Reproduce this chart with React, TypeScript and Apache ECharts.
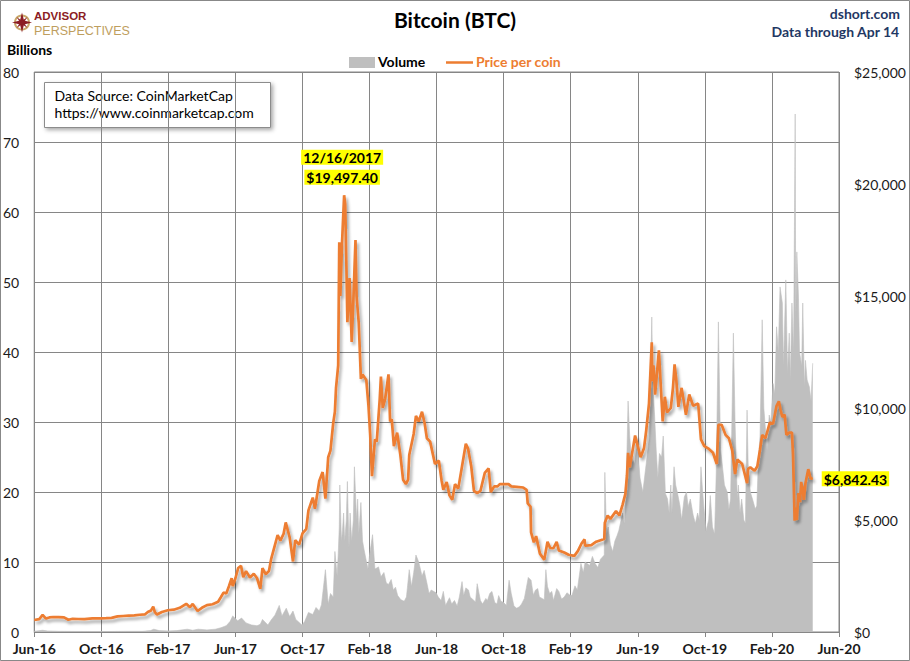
import React, { useEffect, useRef } from "react";
import * as echarts from "echarts";

// ---- Data ----
const xTickLabels = [
  "Jun-16", "Oct-16", "Feb-17", "Jun-17", "Oct-17", "Feb-18", "Jun-18",
  "Oct-18", "Feb-19", "Jun-19", "Oct-19", "Feb-20", "Jun-20",
];

// Price per coin, USD (right axis)
const price: [string, number][] = [
  ["2016-06-01", 537], ["2016-06-10", 575], ["2016-06-16", 766], ["2016-06-22", 600],
  ["2016-06-28", 650], ["2016-07-05", 670], ["2016-07-15", 665], ["2016-07-25", 655],
  ["2016-08-02", 545], ["2016-08-10", 590], ["2016-08-20", 580], ["2016-09-01", 575],
  ["2016-09-15", 610], ["2016-09-30", 609], ["2016-10-10", 617], ["2016-10-20", 630],
  ["2016-10-31", 700], ["2016-11-10", 715], ["2016-11-20", 730], ["2016-11-30", 742],
  ["2016-12-10", 770], ["2016-12-20", 790], ["2016-12-25", 890], ["2016-12-31", 963],
  ["2017-01-04", 1130], ["2017-01-07", 890], ["2017-01-11", 780], ["2017-01-20", 895],
  ["2017-01-31", 970], ["2017-02-10", 995], ["2017-02-20", 1080], ["2017-03-03", 1260],
  ["2017-03-10", 1110], ["2017-03-15", 1250], ["2017-03-24", 937], ["2017-04-01", 1080],
  ["2017-04-10", 1200], ["2017-04-20", 1240], ["2017-04-30", 1350], ["2017-05-05", 1550],
  ["2017-05-10", 1760], ["2017-05-15", 1720], ["2017-05-20", 2040], ["2017-05-25", 2400],
  ["2017-05-27", 2050], ["2017-06-01", 2400], ["2017-06-06", 2860], ["2017-06-11", 2960],
  ["2017-06-15", 2450], ["2017-06-20", 2720], ["2017-06-27", 2430], ["2017-07-04", 2600],
  ["2017-07-10", 2400], ["2017-07-16", 1930], ["2017-07-20", 2850], ["2017-07-26", 2580],
  ["2017-08-01", 2720], ["2017-08-05", 3250], ["2017-08-12", 3880], ["2017-08-17", 4330],
  ["2017-08-22", 4080], ["2017-08-28", 4380], ["2017-09-01", 4890], ["2017-09-08", 4230],
  ["2017-09-14", 3150], ["2017-09-18", 4100], ["2017-09-25", 3900], ["2017-10-01", 4400],
  ["2017-10-08", 4600], ["2017-10-12", 5430], ["2017-10-20", 6000], ["2017-10-24", 5500],
  ["2017-11-01", 6740], ["2017-11-07", 7140], ["2017-11-12", 5950], ["2017-11-17", 7800],
  ["2017-11-21", 8100], ["2017-11-26", 9330], ["2017-11-29", 9840], ["2017-12-01", 10900],
  ["2017-12-05", 11900], ["2017-12-07", 17400], ["2017-12-09", 15000], ["2017-12-12", 17300],
  ["2017-12-16", 19497.4], ["2017-12-18", 19100], ["2017-12-20", 16600], ["2017-12-22", 13830],
  ["2017-12-26", 15800], ["2017-12-30", 12950], ["2018-01-02", 14750], ["2018-01-06", 17500],
  ["2018-01-08", 15000], ["2018-01-12", 13800], ["2018-01-16", 11300], ["2018-01-19", 11500],
  ["2018-01-26", 11250], ["2018-01-30", 10100], ["2018-02-02", 8830], ["2018-02-05", 6960],
  ["2018-02-10", 8600], ["2018-02-13", 8500], ["2018-02-18", 10400], ["2018-02-20", 11400],
  ["2018-02-23", 10000], ["2018-02-27", 10400], ["2018-03-05", 11500], ["2018-03-08", 9400],
  ["2018-03-11", 9500], ["2018-03-15", 8300], ["2018-03-21", 8900], ["2018-03-27", 7900],
  ["2018-04-01", 6800], ["2018-04-06", 6600], ["2018-04-10", 6800], ["2018-04-12", 7900],
  ["2018-04-20", 8850], ["2018-04-24", 9650], ["2018-04-29", 9400], ["2018-05-05", 9830],
  ["2018-05-10", 9300], ["2018-05-14", 8650], ["2018-05-20", 8500], ["2018-05-29", 7500],
  ["2018-06-05", 7650], ["2018-06-10", 6750], ["2018-06-13", 6350], ["2018-06-19", 6700],
  ["2018-06-24", 6100], ["2018-06-29", 5900], ["2018-07-04", 6600], ["2018-07-10", 6400],
  ["2018-07-17", 7400], ["2018-07-24", 8400], ["2018-07-28", 8200], ["2018-08-03", 7400],
  ["2018-08-08", 6300], ["2018-08-14", 6200], ["2018-08-20", 6300], ["2018-08-28", 7100],
  ["2018-09-04", 7300], ["2018-09-08", 6250], ["2018-09-14", 6500], ["2018-09-20", 6500],
  ["2018-09-24", 6600], ["2018-10-01", 6600], ["2018-10-10", 6600], ["2018-10-15", 6500],
  ["2018-10-25", 6480], ["2018-11-06", 6450], ["2018-11-12", 6350], ["2018-11-14", 5740],
  ["2018-11-19", 5600], ["2018-11-20", 4450], ["2018-11-25", 4000], ["2018-11-29", 4280],
  ["2018-12-06", 3500], ["2018-12-14", 3230], ["2018-12-20", 4030], ["2018-12-25", 3750],
  ["2018-12-31", 3740], ["2019-01-06", 4020], ["2019-01-10", 3640], ["2019-01-20", 3550],
  ["2019-01-28", 3450], ["2019-02-07", 3400], ["2019-02-13", 3620], ["2019-02-19", 3950],
  ["2019-02-24", 4140], ["2019-02-25", 3850], ["2019-03-08", 3880], ["2019-03-17", 4030],
  ["2019-04-01", 4150], ["2019-04-02", 4880], ["2019-04-07", 5200], ["2019-04-12", 5050],
  ["2019-04-22", 5400], ["2019-04-28", 5200], ["2019-05-04", 5700], ["2019-05-09", 6170],
  ["2019-05-12", 7000], ["2019-05-14", 8000], ["2019-05-17", 7350], ["2019-05-27", 8770],
  ["2019-06-03", 8100], ["2019-06-06", 7800], ["2019-06-12", 8200], ["2019-06-16", 8990],
  ["2019-06-21", 10200], ["2019-06-26", 12930], ["2019-06-27", 11200], ["2019-06-29", 11900],
  ["2019-07-02", 10600], ["2019-07-09", 12570], ["2019-07-14", 10300], ["2019-07-16", 9400],
  ["2019-07-20", 10500], ["2019-07-24", 9800], ["2019-07-31", 10000], ["2019-08-04", 10900],
  ["2019-08-07", 11950], ["2019-08-10", 11300], ["2019-08-14", 10050], ["2019-08-20", 10900],
  ["2019-08-28", 9700], ["2019-09-03", 10600], ["2019-09-10", 10100], ["2019-09-19", 10200],
  ["2019-09-24", 8600], ["2019-09-30", 8300], ["2019-10-07", 8200], ["2019-10-16", 8000],
  ["2019-10-23", 7500], ["2019-10-26", 9250], ["2019-11-01", 9250], ["2019-11-08", 8800],
  ["2019-11-14", 8650], ["2019-11-20", 8100], ["2019-11-25", 7050], ["2019-11-29", 7700],
  ["2019-12-08", 7500], ["2019-12-17", 6640], ["2019-12-19", 7280], ["2019-12-23", 7350],
  ["2019-12-31", 7200], ["2020-01-05", 7400], ["2020-01-10", 8150], ["2020-01-14", 8800],
  ["2020-01-20", 8650], ["2020-01-28", 9350], ["2020-02-03", 9300], ["2020-02-09", 10100],
  ["2020-02-13", 10300], ["2020-02-16", 9900], ["2020-02-19", 9600], ["2020-02-23", 9700],
  ["2020-02-26", 8800], ["2020-03-02", 8900], ["2020-03-07", 8900], ["2020-03-09", 7900],
  ["2020-03-12", 4970], ["2020-03-13", 5560], ["2020-03-16", 5000], ["2020-03-19", 6200],
  ["2020-03-22", 5800], ["2020-03-24", 6700], ["2020-03-27", 6370], ["2020-03-29", 5900],
  ["2020-04-01", 6640], ["2020-04-06", 7270], ["2020-04-10", 6860], ["2020-04-14", 6842.43],
];

// Volume, billions USD (left axis)
const volume: [string, number][] = [
  ["2016-06-01", 0.1], ["2016-06-16", 0.25], ["2016-06-25", 0.15], ["2016-07-15", 0.1],
  ["2016-08-15", 0.08], ["2016-09-15", 0.07], ["2016-10-15", 0.07], ["2016-11-15", 0.1],
  ["2016-12-15", 0.1], ["2016-12-30", 0.2], ["2017-01-05", 0.4], ["2017-01-15", 0.2],
  ["2017-02-01", 0.15], ["2017-02-15", 0.2], ["2017-03-05", 0.4], ["2017-03-15", 0.25],
  ["2017-03-25", 0.4], ["2017-04-10", 0.3], ["2017-04-25", 0.4], ["2017-05-05", 0.6],
  ["2017-05-15", 0.9], ["2017-05-22", 1.5], ["2017-05-27", 2.3], ["2017-06-05", 1.6],
  ["2017-06-12", 2.0], ["2017-06-20", 1.3], ["2017-06-30", 1.0], ["2017-07-10", 0.9],
  ["2017-07-16", 1.1], ["2017-07-20", 1.8], ["2017-07-30", 1.0], ["2017-08-05", 1.7],
  ["2017-08-12", 2.4], ["2017-08-20", 3.8], ["2017-08-25", 2.3], ["2017-09-02", 3.4],
  ["2017-09-08", 2.2], ["2017-09-14", 3.0], ["2017-09-19", 1.8], ["2017-09-30", 1.0],
  ["2017-10-05", 1.5], ["2017-10-12", 2.8], ["2017-10-20", 2.5], ["2017-10-26", 3.5],
  ["2017-11-01", 3.0], ["2017-11-05", 3.9], ["2017-11-12", 8.9], ["2017-11-17", 4.0],
  ["2017-11-21", 5.5], ["2017-11-26", 5.0], ["2017-11-29", 11.5], ["2017-12-03", 8.0],
  ["2017-12-05", 11.0], ["2017-12-07", 15.0], ["2017-12-08", 21.0], ["2017-12-11", 13.0],
  ["2017-12-13", 14.5], ["2017-12-15", 17.0], ["2017-12-17", 13.0], ["2017-12-20", 16.0],
  ["2017-12-22", 21.5], ["2017-12-25", 12.0], ["2017-12-27", 17.0], ["2017-12-30", 13.0],
  ["2018-01-02", 16.0], ["2018-01-04", 23.6], ["2018-01-08", 16.0], ["2018-01-10", 19.0],
  ["2018-01-12", 14.0], ["2018-01-16", 18.5], ["2018-01-19", 13.0], ["2018-01-22", 11.7],
  ["2018-01-29", 9.0], ["2018-02-01", 11.0], ["2018-02-06", 13.9], ["2018-02-10", 9.0],
  ["2018-02-16", 9.3], ["2018-02-20", 7.9], ["2018-02-25", 8.5], ["2018-03-01", 7.0],
  ["2018-03-05", 6.8], ["2018-03-10", 7.5], ["2018-03-14", 6.0], ["2018-03-18", 6.4],
  ["2018-03-22", 5.2], ["2018-03-28", 4.6], ["2018-04-03", 4.4], ["2018-04-07", 5.0],
  ["2018-04-12", 8.9], ["2018-04-16", 6.5], ["2018-04-20", 8.5], ["2018-04-24", 11.0],
  ["2018-04-29", 10.0], ["2018-05-05", 8.0], ["2018-05-09", 8.8], ["2018-05-14", 7.0],
  ["2018-05-18", 5.5], ["2018-05-22", 6.0], ["2018-05-31", 5.6], ["2018-06-04", 5.0],
  ["2018-06-09", 4.5], ["2018-06-13", 5.8], ["2018-06-17", 3.8], ["2018-06-24", 4.9],
  ["2018-06-28", 4.0], ["2018-07-03", 4.5], ["2018-07-08", 3.7], ["2018-07-12", 5.0],
  ["2018-07-17", 7.2], ["2018-07-20", 5.2], ["2018-07-24", 6.3], ["2018-07-29", 6.0],
  ["2018-08-01", 5.0], ["2018-08-08", 4.5], ["2018-08-11", 4.3], ["2018-08-14", 6.9],
  ["2018-08-20", 4.5], ["2018-08-24", 4.0], ["2018-08-30", 4.8], ["2018-09-02", 4.5],
  ["2018-09-06", 5.5], ["2018-09-10", 5.8], ["2018-09-15", 4.2], ["2018-09-19", 4.0],
  ["2018-09-22", 5.2], ["2018-09-26", 4.4], ["2018-10-01", 4.2], ["2018-10-06", 3.8],
  ["2018-10-11", 7.4], ["2018-10-15", 5.5], ["2018-10-20", 3.7], ["2018-10-25", 3.4],
  ["2018-10-30", 3.6], ["2018-11-03", 4.0], ["2018-11-08", 4.8], ["2018-11-15", 7.8],
  ["2018-11-20", 7.4], ["2018-11-24", 5.3], ["2018-11-28", 6.0], ["2018-12-02", 6.2],
  ["2018-12-05", 5.0], ["2018-12-10", 4.8], ["2018-12-14", 4.6], ["2018-12-17", 8.9],
  ["2018-12-20", 6.5], ["2018-12-24", 5.5], ["2018-12-28", 5.8], ["2018-12-31", 4.5],
  ["2019-01-06", 6.2], ["2019-01-10", 5.8], ["2019-01-15", 4.7], ["2019-01-20", 5.0],
  ["2019-01-25", 5.6], ["2019-01-30", 5.3], ["2019-02-03", 5.2], ["2019-02-08", 6.6],
  ["2019-02-12", 6.0], ["2019-02-18", 9.8], ["2019-02-22", 8.5], ["2019-02-25", 10.0],
  ["2019-03-05", 9.5], ["2019-03-10", 10.8], ["2019-03-15", 9.8], ["2019-03-20", 9.2],
  ["2019-03-25", 10.4], ["2019-04-01", 11.0], ["2019-04-02", 22.8], ["2019-04-05", 14.0],
  ["2019-04-08", 15.0], ["2019-04-12", 12.5], ["2019-04-16", 11.5], ["2019-04-20", 13.0],
  ["2019-04-24", 13.8], ["2019-04-27", 14.5], ["2019-05-04", 17.0], ["2019-05-07", 15.5],
  ["2019-05-10", 19.0], ["2019-05-14", 33.0], ["2019-05-17", 28.0], ["2019-05-20", 25.0],
  ["2019-05-26", 24.0], ["2019-05-31", 27.0], ["2019-06-05", 22.0], ["2019-06-10", 20.0],
  ["2019-06-17", 24.7], ["2019-06-22", 28.0], ["2019-06-26", 45.0], ["2019-06-28", 35.0],
  ["2019-07-01", 31.0], ["2019-07-04", 26.0], ["2019-07-07", 22.0], ["2019-07-10", 25.5],
  ["2019-07-14", 25.0], ["2019-07-17", 28.0], ["2019-07-21", 19.8], ["2019-07-25", 19.0],
  ["2019-07-28", 17.0], ["2019-07-31", 21.0], ["2019-08-02", 17.0], ["2019-08-06", 23.6],
  ["2019-08-09", 21.0], ["2019-08-12", 20.0], ["2019-08-17", 18.0], ["2019-08-20", 16.0],
  ["2019-08-25", 19.3], ["2019-08-29", 20.0], ["2019-09-01", 17.9], ["2019-09-05", 19.0],
  ["2019-09-10", 16.7], ["2019-09-14", 15.5], ["2019-09-18", 17.0], ["2019-09-21", 16.0],
  ["2019-09-24", 23.6], ["2019-09-27", 20.0], ["2019-10-03", 14.4], ["2019-10-08", 16.0],
  ["2019-10-11", 19.5], ["2019-10-15", 15.0], ["2019-10-19", 14.0], ["2019-10-22", 22.7],
  ["2019-10-26", 44.3], ["2019-10-30", 26.0], ["2019-11-02", 24.0], ["2019-11-06", 21.0],
  ["2019-11-11", 20.0], ["2019-11-14", 17.5], ["2019-11-17", 19.0], ["2019-11-22", 42.7],
  ["2019-11-25", 30.0], ["2019-11-29", 19.0], ["2019-12-01", 21.0], ["2019-12-04", 17.0],
  ["2019-12-07", 19.0], ["2019-12-11", 16.0], ["2019-12-14", 15.5], ["2019-12-17", 31.7],
  ["2019-12-19", 24.0], ["2019-12-23", 20.0], ["2019-12-27", 19.0], ["2020-01-01", 17.6],
  ["2020-01-04", 18.0], ["2020-01-07", 24.6], ["2020-01-10", 28.0], ["2020-01-14", 44.6],
  ["2020-01-17", 32.0], ["2020-01-20", 29.0], ["2020-01-23", 26.0], ["2020-01-27", 31.0],
  ["2020-01-30", 30.0], ["2020-02-03", 35.5], ["2020-02-06", 34.0], ["2020-02-09", 43.6],
  ["2020-02-12", 40.0], ["2020-02-15", 49.3], ["2020-02-19", 47.0], ["2020-02-21", 38.0],
  ["2020-02-25", 50.3], ["2020-02-28", 37.0], ["2020-03-02", 42.7], ["2020-03-04", 36.0],
  ["2020-03-07", 47.0], ["2020-03-10", 40.0], ["2020-03-13", 74.0], ["2020-03-14", 45.0],
  ["2020-03-16", 54.3], ["2020-03-19", 48.0], ["2020-03-21", 40.0], ["2020-03-25", 38.0],
  ["2020-03-27", 47.0], ["2020-03-30", 35.0], ["2020-04-01", 38.8], ["2020-04-04", 36.0],
  ["2020-04-08", 35.0], ["2020-04-11", 33.0], ["2020-04-14", 38.4],
];

const peakDate = "2017-12-16";
const peakPrice = 19497.4;
const lastDate = "2020-04-14";
const lastPrice = 6842.43;

// ---- helpers ----
// Position on the x axis in months since 1 Jun 2016
function toM(d: string): number {
  const [y, mo, da] = d.split("-").map(Number);
  const dim = new Date(y, mo, 0).getDate();
  return (y - 2016) * 12 + (mo - 6) + (da - 1) / dim;
}
function toSeries(rows: [string, number][]): number[][] {
  return rows.map(([d, v]) => [toM(d), v]).sort((a, b) => a[0] - b[0]);
}

const FONT = "Lato, 'Open Sans', sans-serif";
const LOGO_FONT = "'Liberation Sans', Arial, sans-serif";
const ORANGE = "#ED7D31";
const GRAY = "#BFBFBF";
const GRID = "#868686";
const NAVY = "#1F3864";

export default function App() {
  const ref = useRef<HTMLDivElement>(null);

  useEffect(() => {
    if (!ref.current) return;
    const chart = echarts.init(ref.current, undefined, { renderer: "svg" });

    const option: any = {
      animation: false,
      backgroundColor: "#fff",
      textStyle: { fontFamily: FONT },
      grid: { left: 30, right: 71, top: 72, bottom: 29, show: true, borderColor: GRID, borderWidth: 1 },
      xAxis: {
        type: "value",
        min: 0,
        max: 48,
        interval: 4,
        axisLine: { show: true, lineStyle: { color: GRID } },
        axisTick: { show: true, length: 5, lineStyle: { color: GRID } },
        splitLine: { show: true, lineStyle: { color: GRID, width: 1 } },
        axisLabel: {
          formatter: (v: number) => xTickLabels[Math.round(v / 4)] ?? "",
          fontFamily: FONT,
          fontSize: 14,
          fontWeight: "bold",
          color: "#1a1a1a",
          margin: 9,
        },
      },
      yAxis: [
        {
          type: "value",
          min: 0,
          max: 80,
          interval: 10,
          axisLine: { show: false },
          axisTick: { show: false },
          splitLine: { show: true, lineStyle: { color: GRID, width: 1 } },
          axisLabel: { fontFamily: FONT, fontSize: 14, color: "#1a1a1a", margin: 15 },
        },
        {
          type: "value",
          min: 0,
          max: 25000,
          interval: 5000,
          position: "right",
          axisLine: { show: false },
          axisTick: { show: false },
          splitLine: { show: false },
          axisLabel: {
            fontFamily: FONT,
            fontSize: 14,
            color: "#1a1a1a",
            margin: 15,
            align: "left",
            formatter: (v: number) => "$" + v.toLocaleString("en-US"),
          },
        },
      ],
      series: [
        {
          name: "Volume",
          type: "line",
          yAxisIndex: 0,
          data: toSeries(volume),
          showSymbol: false,
          symbol: "none",
          lineStyle: { width: 0.6, color: GRAY },
          areaStyle: { color: GRAY, opacity: 1 },
          z: 1,
        },
        {
          name: "Price per coin",
          type: "line",
          yAxisIndex: 1,
          data: toSeries(price),
          showSymbol: false,
          symbol: "none",
          lineStyle: {
            width: 2.7,
            color: ORANGE,
            shadowColor: "rgba(0,0,0,0.35)",
            shadowBlur: 3,
            shadowOffsetX: 2,
            shadowOffsetY: 3,
          },
          z: 3,
          markPoint: {
            symbol: "circle",
            symbolSize: 0,
            silent: true,
            data: [
              {
                coord: [toM(peakDate), peakPrice],
                label: {
                  show: true,
                  position: "top",
                  distance: 8,
                  offset: [-2, 0],
                  formatter: "{h|12/16/2017}\n{h|$19,497.40}",
                },
              },
              {
                coord: [toM(lastDate), lastPrice],
                label: {
                  show: true,
                  position: "right",
                  distance: 9,
                  formatter: "{h|$6,842.43}",
                },
              },
            ],
            label: {
              rich: {
                h: {
                  backgroundColor: "#FFFF00",
                  fontFamily: FONT,
                  fontWeight: "bold",
                  fontSize: 14,
                  color: "#000",
                  lineHeight: 20,
                  padding: [1, 2, 0, 2],
                },
              },
            },
          },
        },
      ],
      graphic: [
        // outer frame
        {
          type: "rect",
          shape: { x: 0.5, y: 0.5, width: 909, height: 660 },
          style: { fill: "none", stroke: "#888", lineWidth: 1 },
          silent: true,
        },
        // logo
        {
          type: "group",
          left: 12,
          top: 10,
          children: [
            {
              type: "circle",
              shape: { cx: 10, cy: 10, r: 7 },
              style: { fill: "none", stroke: "#C9A86A", lineWidth: 2 },
            },
            {
              type: "polygon",
              shape: {
                points: [[10, 0], [12, 8], [20, 10], [12, 12], [10, 20], [8, 12], [0, 10], [8, 8]],
              },
              style: { fill: "#8B1C24" },
            },
            {
              type: "polygon",
              shape: { points: [[4.5, 4.5], [11, 9], [15.5, 15.5], [9, 11]] },
              style: { fill: "#8B1C24" },
            },
            {
              type: "polygon",
              shape: { points: [[15.5, 4.5], [11, 11], [4.5, 15.5], [9, 9]] },
              style: { fill: "#8B1C24" },
            },
            {
              type: "text",
              x: 22,
              y: 3.5,
              style: {
                text: "ADVISOR",
                fontFamily: LOGO_FONT,
                fontWeight: "bold",
                fontSize: 11.5,
                verticalAlign: "middle",
                fill: "#8B1C24",
              },
            },
            {
              type: "text",
              x: 22,
              y: 18.5,
              style: {
                text: "PERSPECTIVES",
                fontFamily: LOGO_FONT,
                fontSize: 12.5,
                verticalAlign: "middle",
                fill: "#BE9E5E",
              },
            },
          ],
        },
        // title
        {
          type: "text",
          left: "center",
          top: 9,
          style: { text: "Bitcoin (BTC)", fontFamily: FONT, fontWeight: "bold", fontSize: 21, fill: "#000" },
        },
        // top right
        {
          type: "text",
          right: 10,
          top: 6,
          style: { text: "dshort.com", fontFamily: FONT, fontWeight: "bold", fontSize: 14, fill: NAVY },
        },
        {
          type: "text",
          right: 10,
          top: 24,
          style: { text: "Data through Apr 14", fontFamily: FONT, fontWeight: "bold", fontSize: 14, fill: NAVY },
        },
        // axis unit
        {
          type: "text",
          left: 7,
          top: 42,
          style: { text: "Billions", fontFamily: FONT, fontWeight: "bold", fontSize: 14, fill: "#000" },
        },
        // legend
        {
          type: "rect",
          shape: { x: 349, y: 57, width: 26, height: 11 },
          style: { fill: GRAY },
        },
        {
          type: "text",
          x: 378,
          y: 54,
          style: { text: "Volume", fontFamily: FONT, fontWeight: "bold", fontSize: 14, fill: "#000" },
        },
        {
          type: "line",
          shape: { x1: 446, y1: 62.5, x2: 473, y2: 62.5 },
          style: { stroke: ORANGE, lineWidth: 2.5 },
        },
        {
          type: "text",
          x: 476,
          y: 54,
          style: { text: "Price per coin", fontFamily: FONT, fontWeight: "bold", fontSize: 14, fill: ORANGE },
        },
        // data source box
        {
          type: "group",
          left: 44,
          top: 82,
          z: 100,
          children: [
            {
              type: "rect",
              shape: { x: 0, y: 0, width: 226, height: 45 },
              style: {
                fill: "#fff",
                stroke: "#8c8c8c",
                lineWidth: 1,
                shadowColor: "rgba(0,0,0,0.35)",
                shadowBlur: 4,
                shadowOffsetX: 2,
                shadowOffsetY: 2,
              },
            },
            {
              type: "text",
              x: 10,
              y: 6,
              style: { text: "Data Source: CoinMarketCap", fontFamily: FONT, fontSize: 14, fill: "#000" },
            },
            {
              type: "text",
              x: 10,
              y: 23,
              style: { text: "https://www.coinmarketcap.com", fontFamily: FONT, fontSize: 14, fill: "#000" },
            },
          ],
        },
      ],
    };

    chart.setOption(option);
    return () => chart.dispose();
  }, []);

  return (
    <div
      ref={ref}
      style={{ position: "absolute", left: 0, top: 0, width: 910, height: 661, background: "#fff" }}
    />
  );
}
